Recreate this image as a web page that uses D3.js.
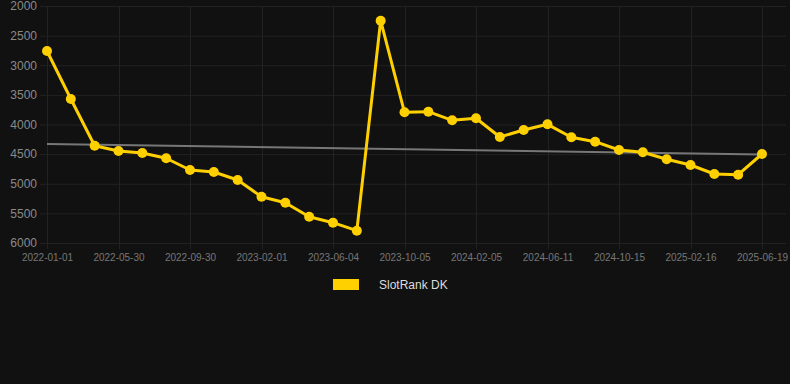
<!DOCTYPE html>
<html>
<head>
<meta charset="utf-8">
<script src="https://cdn.jsdelivr.net/npm/d3@7"></script>
<style>
  body { margin: 0; background: #111111; }
  svg { display: block; font-family: "Liberation Sans", Arial, sans-serif; }
</style>
</head>
<body>
<script>
const w = 790;
const h = 384;

// dates for each point (every 3rd one is labelled on the axis)
const dates = [
  "2022-01-01", "2022-02-19", "2022-04-09", "2022-05-30", "2022-07-10", "2022-08-20",
  "2022-09-30", "2022-11-10", "2022-12-21", "2023-02-01", "2023-03-16", "2023-04-26",
  "2023-06-04", "2023-07-15", "2023-08-25", "2023-10-05", "2023-11-15", "2023-12-26",
  "2024-02-05", "2024-03-18", "2024-04-30", "2024-06-11", "2024-07-23", "2024-09-03",
  "2024-10-15", "2024-11-26", "2025-01-06", "2025-02-16", "2025-03-31", "2025-05-09",
  "2025-06-19"
];
const ranks = [
  2760, 3570, 4358, 4447, 4481, 4570, 4768, 4802, 4937, 5219, 5320, 5556,
  5657, 5792, 2248, 3794, 3784, 3929, 3895, 4211, 4093, 3997, 4216, 4290,
  4430, 4469, 4587, 4684, 4835, 4847, 4498
];
const trend = [4330, 4505]; // start / end of the trend line
const yTicks = [2000, 2500, 3000, 3500, 4000, 4500, 5000, 5500, 6000];
const seriesName = "SlotRank DK";
const gold = "#ffd000";

let svg = d3.select("body")
            .append("svg")
            .attr("width", w)
            .attr("height", h);

let x = d3.scalePoint()
          .domain(dates)
          .range([47, 762]);
let y = d3.scaleLinear()
          .domain([2000, 6000])
          .range([6, 243]);

const xTicks = dates.filter((d, i) => i % 3 == 0);

// grid
svg.append("g")
   .selectAll("line")
   .data(yTicks)
   .enter()
   .append("line")
   .attr("x1", 40)
   .attr("x2", 786)
   .attr("y1", (d) => y(d) + 0.5)
   .attr("y2", (d) => y(d) + 0.5)
   .attr("stroke", "#222")
   .attr("stroke-width", 1);
svg.append("g")
   .selectAll("line")
   .data(xTicks)
   .enter()
   .append("line")
   .attr("x1", (d) => Math.round(x(d)) + 0.5)
   .attr("x2", (d) => Math.round(x(d)) + 0.5)
   .attr("y1", 6)
   .attr("y2", 249)
   .attr("stroke", "#222")
   .attr("stroke-width", 1);

// axes
let yAxis = svg.append("g")
   .attr("transform", "translate(37,0)")
   .call(d3.axisLeft(y).tickValues(yTicks).tickSize(0).tickFormat(d3.format("d")));
yAxis.select(".domain").remove();
yAxis.selectAll("text")
     .attr("fill", "#8a8a8a")
     .attr("font-size", 12)
     .attr("dx", 0)
     .attr("x", 0);

let xAxis = svg.append("g")
   .attr("transform", "translate(0,254)")
   .call(d3.axisBottom(x).tickValues(xTicks).tickSize(0));
xAxis.select(".domain").remove();
xAxis.selectAll("text")
     .attr("fill", "#777")
     .attr("font-size", 10)
     .attr("y", 0)
     .attr("dy", "0.71em");

// trend line
svg.append("line")
   .attr("x1", x(dates[0]))
   .attr("x2", x(dates[dates.length - 1]))
   .attr("y1", y(trend[0]))
   .attr("y2", y(trend[1]))
   .attr("stroke", "#777")
   .attr("stroke-width", 2);

// series
let line = d3.line()
             .x((d, i) => x(dates[i]))
             .y((d) => y(d));
svg.append("path")
   .datum(ranks)
   .attr("d", line)
   .attr("fill", "none")
   .attr("stroke", gold)
   .attr("stroke-width", 3)
   .attr("stroke-linejoin", "round");
svg.selectAll("circle.pt")
   .data(ranks)
   .enter()
   .append("circle")
   .attr("class", "pt")
   .attr("cx", (d, i) => x(dates[i]))
   .attr("cy", (d) => y(d))
   .attr("r", 5)
   .attr("fill", gold);

// legend
svg.append("rect")
   .attr("x", 333)
   .attr("y", 279)
   .attr("width", 26)
   .attr("height", 11)
   .attr("fill", gold);
svg.append("text")
   .attr("x", 379)
   .attr("y", 289)
   .attr("fill", "#ddd")
   .attr("font-size", 12)
   .text(seriesName);
</script>
</body>
</html>
